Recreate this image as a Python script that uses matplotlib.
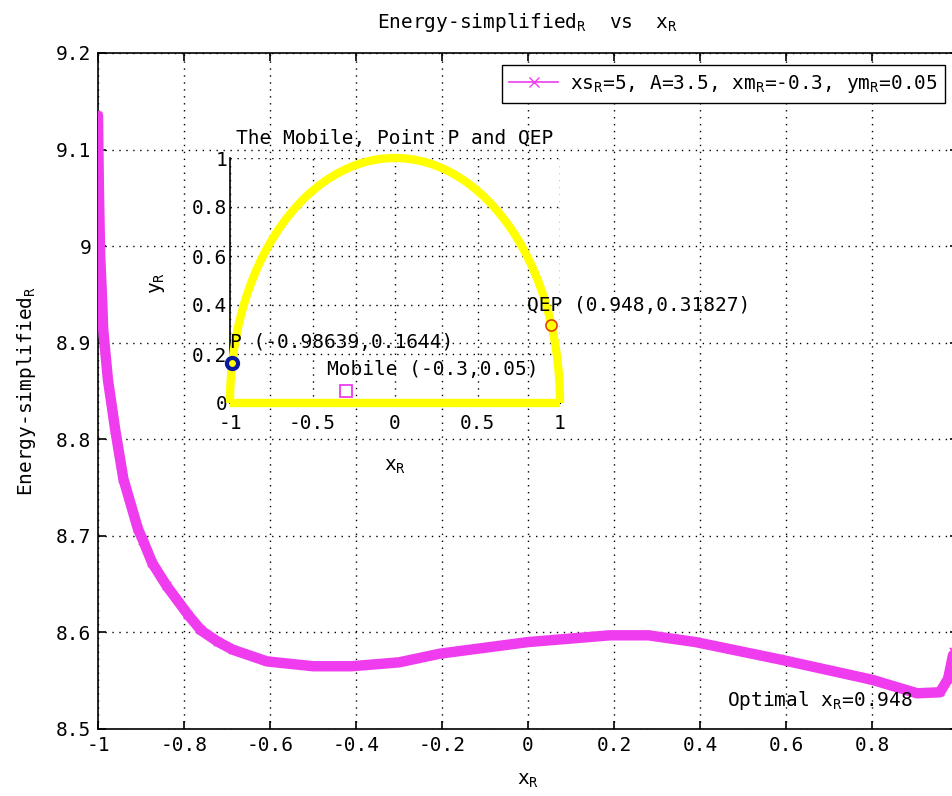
import matplotlib
matplotlib.use("Agg")
import matplotlib.pyplot as plt
from matplotlib.patches import Arc
from matplotlib.lines import Line2D

plt.rcParams['font.family'] = ['DejaVu Sans Mono']
plt.rcParams['font.size'] = 14
plt.rcParams['axes.titlesize'] = 14
plt.rcParams['mathtext.default'] = 'regular'

# energy curve
xr = [-1.0, -0.998, -0.995, -0.99, -0.988, -0.977, -0.96, -0.941, -0.907, -0.895,
      -0.874, -0.84, -0.79, -0.76, -0.72, -0.686, -0.607, -0.5, -0.41, -0.3,
      -0.205, 0.0, 0.19, 0.28, 0.39, 0.586, 0.8, 0.905, 0.958, 0.977, 0.99, 1.0]
energy = [9.135, 9.06, 8.99, 8.94, 8.914, 8.862, 8.81, 8.759, 8.707, 8.695,
          8.672, 8.648, 8.618, 8.602, 8.590, 8.582, 8.570, 8.565, 8.565, 8.569,
          8.578, 8.590, 8.597, 8.597, 8.590, 8.572, 8.551, 8.537, 8.538, 8.552,
          8.58, 8.62]

# points in the inset
p_pt = (-0.98639, 0.1644)
qep_pt = (0.948, 0.31827)
mobile_pt = (-0.3, 0.05)
base_x = [-1, 1]
base_y = [0, 0]

xticks = [-1, -0.8, -0.6, -0.4, -0.2, 0, 0.2, 0.4, 0.6, 0.8, 1]
xtick_lbl = ['-1', '-0.8', '-0.6', '-0.4', '-0.2', '0', '0.2', '0.4', '0.6', '0.8', '1']
yticks = [8.5, 8.6, 8.7, 8.8, 8.9, 9.0, 9.1, 9.2]
ytick_lbl = ['8.5', '8.6', '8.7', '8.8', '8.9', '9', '9.1', '9.2']

mag = '#ee3cee'
dotgrid = dict(color='black', linestyle=(0, (1, 4)), linewidth=1.0)

fig = plt.figure(figsize=(9.52, 7.96), dpi=100)
ax = fig.add_axes([98/952, 67/796, 860/952, 676/796])

ax.plot(xr, energy, color=mag, lw=7.5, marker='x', ms=6, mew=1.5,
        solid_capstyle='round', solid_joinstyle='round', zorder=3)
ax.set_xlim(-1, 1)
ax.set_ylim(8.5, 9.2)
ax.set_xticks(xticks)
ax.set_xticklabels(xtick_lbl)
ax.set_yticks(yticks)
ax.set_yticklabels(ytick_lbl)
ax.grid(True, **dotgrid)
ax.tick_params(direction='in', top=True, right=True, length=6, width=1.2, pad=5)
for s in ax.spines.values():
    s.set_linewidth(1.2)

ax.set_title('Energy-simplified$_R$  vs  x$_R$', pad=18)
ax.set_xlabel('x$_R$')
ax.xaxis.set_label_coords(0.5, -0.062)
ax.set_ylabel('Energy-simplified$_R$')
ax.yaxis.set_label_coords(-0.07, 0.5)

ax.text(0.463, 8.53, 'Optimal x$_R$=0.948', va='center', ha='left', zorder=5)

h = Line2D([], [], color=mag, lw=1.2, marker='x', ms=7)
ax.legend([h], ['xs$_R$=5, A=3.5, xm$_R$=-0.3, ym$_R$=0.05'], loc='upper right',
          bbox_to_anchor=(0.985, 0.982), fancybox=False, edgecolor='black',
          framealpha=1, handlelength=2.5, numpoints=1, borderaxespad=0,
          handletextpad=0.6)

# inset
ax2 = fig.add_axes([230/952, 393/796, 330/952, 245/796])
ax2.patch.set_alpha(0)
ax2.add_patch(Arc((0, 0), 2, 2, theta1=0, theta2=180, color='#ffff00', lw=6,
                  zorder=4, clip_on=False))
ax2.plot(base_x, base_y, color='#ffff00', lw=6, solid_capstyle='butt',
         zorder=4, clip_on=False)
ax2.plot(*p_pt, 'o', mfc='none', mec='#0a1aa0', mew=3, ms=8, zorder=6, clip_on=False)
ax2.plot(*qep_pt, 'o', mfc='none', mec='#e04000', mew=1.2, ms=8, zorder=6)
ax2.plot(*mobile_pt, 's', mfc='none', mec=mag, mew=1.3, ms=8, zorder=6)

ax2.text(-1.0, 0.245, 'P (-0.98639,0.1644)', va='center', ha='left', zorder=7)
ax2.text(-0.41, 0.135, 'Mobile (-0.3,0.05)', va='center', ha='left', zorder=7)
ax2.text(0.8, 0.40, 'QEP (0.948,0.31827)', va='center', ha='left', zorder=7)

ax2.set_xlim(-1, 1)
ax2.set_ylim(0, 1)
ax2.set_xticks([-1, -0.5, 0, 0.5, 1])
ax2.set_xticklabels(['-1', '-0.5', '0', '0.5', '1'])
ax2.set_yticks([0, 0.2, 0.4, 0.6, 0.8, 1])
ax2.set_yticklabels(['0', '0.2', '0.4', '0.6', '0.8', '1'])
ax2.grid(True, **dotgrid)
ax2.tick_params(axis='y', length=0, pad=2)
ax2.tick_params(axis='x', length=0, pad=8)
ax2.spines['top'].set_visible(False)
ax2.spines['right'].set_visible(False)
ax2.spines['left'].set_linewidth(1.2)
ax2.set_title('The Mobile, Point P and QEP', pad=10)
ax2.set_xlabel('x$_R$')
ax2.xaxis.set_label_coords(0.5, -0.22)
ax2.set_ylabel('y$_R$')
ax2.yaxis.set_label_coords(-0.19, 0.49)

fig.savefig('out.png', dpi=100)
